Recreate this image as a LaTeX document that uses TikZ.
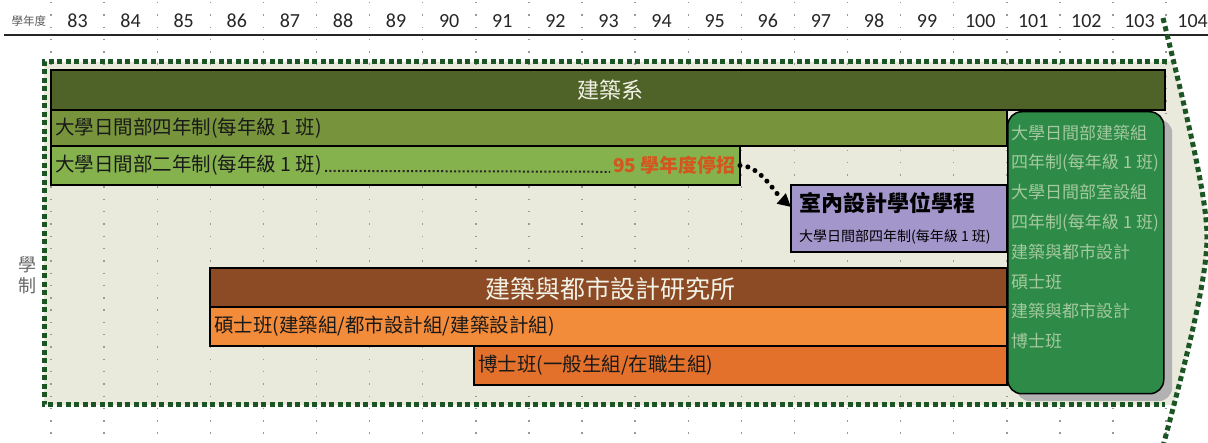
\documentclass[tikz,border=0pt]{standalone}
\usepackage{fontspec}
\setmainfont{Noto Sans CJK TC}
\newfontfamily\numfont{Carlito}
\usetikzlibrary{arrows.meta}
\definecolor{frameFill}{HTML}{E9E9DC}
\definecolor{frameGreen}{HTML}{1B5523}
\definecolor{oliveA}{HTML}{4F6228}
\definecolor{oliveB}{HTML}{77933C}
\definecolor{oliveC}{HTML}{86B24E}
\definecolor{lav}{HTML}{A396CB}
\definecolor{brownA}{HTML}{8C4A25}
\definecolor{orangeA}{HTML}{F28B3A}
\definecolor{orangeB}{HTML}{E4712B}
\definecolor{greenBox}{HTML}{2D8A47}
\definecolor{greenText}{HTML}{A5C9A0}
\definecolor{stopRed}{HTML}{D4561F}
\definecolor{lightText}{HTML}{F2F2E6}
\begin{document}
\begin{tikzpicture}[x=1pt,y=-1pt,
  bar/.style={draw=black, line width=1.3pt, inner sep=0pt, outer sep=0pt, anchor=north west},
  lbl/.style={anchor=west, inner sep=0pt, font=\fontsize{19.5}{22}\selectfont, text=black!90},
  yr/.style={font=\numfont\fontsize{20}{24}\selectfont, text=black!85, inner sep=0pt},
  griddot/.style={black!40, line width=1.4pt, dash pattern=on 1.4pt off 10.9pt},
  frameline/.style={draw=frameGreen, line width=5pt, dash pattern=on 5pt off 3.5pt},
  gbox/.style={rounded corners=14pt, minimum width=156pt, minimum height=282pt, inner sep=0pt, anchor=north west}
]
\useasboundingbox (0,0) rectangle (1208,443);
% frame fill
\fill[frameFill] (44,62) rectangle (1166,405);
\begin{scope}
\clip (1100,62) rectangle (1220,405);
\fill[frameFill] (1163,18) .. controls (1190,128) and (1207,200) .. (1207,237) .. controls (1207,280) and (1186,360) .. (1162,450) -- cycle;
\end{scope}
% grid dots
\foreach \k in {0,...,21} \draw[griddot] ({51+53.1*\k},2) -- ({51+53.1*\k},443);
% header
\node[inner sep=0pt, font=\fontsize{11.5}{13}\selectfont, text=black!65] (hlabel) at (29,21) {學年度};
\foreach \n [count=\i from 0] in {83,...,104} \node[yr] (y\n) at ({77.5+53.1*\i},21) {\n};
\draw[black!85, line width=1.5pt] (4,35) -- (1208,35);
% frame border
\draw[frameline] (1167,62) -- (44,62) -- (44,405) -- (1165,405);
\draw[frameline] (1163,18) .. controls (1190,128) and (1207,200) .. (1207,237) .. controls (1207,280) and (1186,360) .. (1162,450);
% side label
\node[inner sep=0pt, align=center, font=\fontsize{18}{21}\selectfont, text=black!60] (xz) at (28,275) {學\\制};
% bars
\node[bar, fill=oliveA, minimum width=1114pt, minimum height=40pt] (b0) at (51,70) {};
\node[inner sep=0pt, font=\fontsize{22}{26}\selectfont, text=lightText] (t0) at (610,90) {建築系};
\node[bar, fill=oliveB, minimum width=956pt, minimum height=36pt] (b1) at (51,110) {};
\node[lbl] (t1) at ([xshift=4pt]b1.west) {大學日間部四年制(每年級 1 班)};
\node[bar, fill=oliveC, minimum width=689pt, minimum height=39pt] (b2) at (51,146) {};
\node[lbl] (t2) at ([xshift=4pt]b2.west) {大學日間部二年制(每年級 1 班)};
\node[anchor=east, inner sep=0pt, font=\bfseries\fontsize{19}{22}\selectfont, text=stopRed] (stop) at ([xshift=-4pt]b2.east) {95 學年度停招};
\draw[black!85, line width=2pt, dash pattern=on 2pt off 2.3pt, shorten <=3pt, shorten >=3pt] ([yshift=1pt]t2.base east) -- ([yshift=1pt]stop.base west);
% interior design program
\node[bar, fill=lav, minimum width=216pt, minimum height=67pt] (lav) at (791,185) {};
\node[anchor=west, inner sep=0pt, align=left, font=\fontsize{14}{30}\selectfont] (tl) at ([xshift=8pt]lav.west) {{\bfseries\fontsize{22}{26}\selectfont 室內設計學位學程}\\大學日間部四年制(每年級 1 班)};
\draw[black, line width=5pt, line cap=round, dash pattern=on 0pt off 8pt, -{Triangle[length=13pt,width=13pt]}] (b2.east) .. controls +(20,0) and +(-16,-14) .. ([yshift=-22pt]lav.north west);
% graduate institute
\node[bar, fill=brownA, minimum width=797pt, minimum height=39pt] (b3) at (210,268) {};
\node[inner sep=0pt, font=\fontsize{25}{28}\selectfont, text=lightText] (t3) at (610,289) {建築與都市設計研究所};
\node[bar, fill=orangeA, minimum width=797pt, minimum height=39pt] (b4) at (210,307) {};
\node[lbl] (t4) at ([xshift=4pt]b4.west) {碩士班(建築組/都市設計組/建築設計組)};
\node[bar, fill=orangeB, minimum width=533pt, minimum height=39pt] (b5) at (474,346) {};
\node[lbl] (t5) at ([xshift=4pt]b5.west) {博士班(一般生組/在職生組)};
% green summary box
\node[gbox, fill=black!30] (gsh) at (1016,119) {};
\node[gbox, fill=greenBox, draw=black, line width=1.5pt] (grn) at (1007,111) {};
\node[anchor=north west, inner sep=0pt, align=left, font=\fontsize{17}{29.8}\selectfont, text=greenText] (gtxt) at (1011,124.5) {大學日間部建築組\\四年制(每年級 1 班)\\大學日間部室設組\\四年制(每年級 1 班)\\建築與都市設計\\碩士班\\建築與都市設計\\博士班};
\end{tikzpicture}
\end{document}
